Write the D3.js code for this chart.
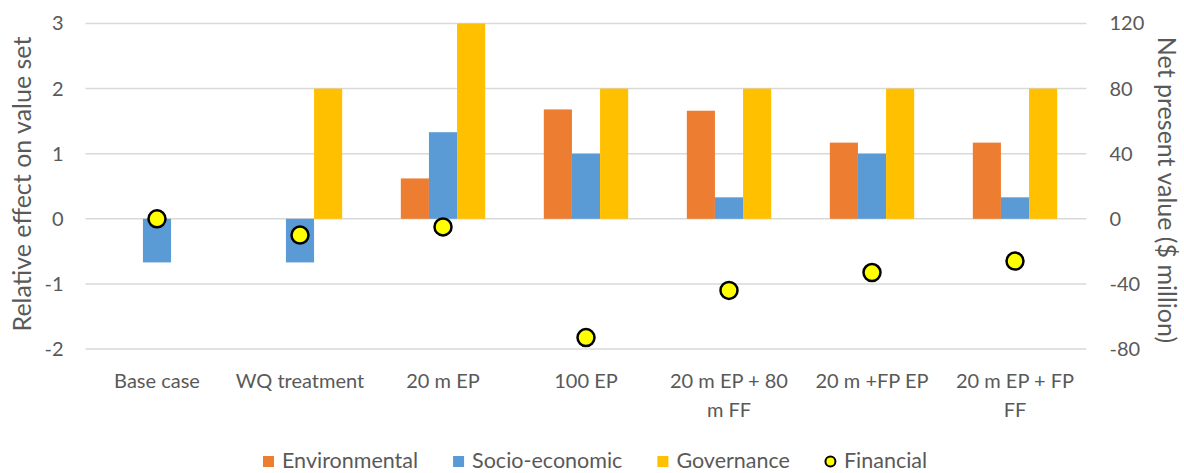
<!DOCTYPE html>
<html>
<head>
<meta charset="utf-8">
<script src="https://cdn.jsdelivr.net/npm/d3@7"></script>
<style>
  html, body { margin: 0; padding: 0; background: #fff; }
  svg { display: block; }
  text { font-family: Lato, "Open Sans", sans-serif; fill: #595959; }
</style>
</head>
<body>
<svg id="chart" width="1184" height="473"></svg>
<script>
// Scenarios along the x axis
const categories = ["Base case", "WQ treatment", "20 m EP", "100 EP",
  "20 m EP + 80 m FF", "20 m +FP EP", "20 m EP + FP FF"];

// Relative effect on value set (left axis)
const environmental = [0, 0, 0.62, 1.68, 1.66, 1.17, 1.17];
const socioEconomic = [-0.67, -0.67, 1.33, 1, 0.33, 1, 0.33];
const governance    = [0, 2, 3, 2, 2, 2, 2];

// Net present value, $ million (right axis)
const financial = [0, -10, -5, -73, -44, -33, -26];

const leftTicks = [-2, -1, 0, 1, 2, 3];
const rightTicks = [-80, -40, 0, 40, 80, 120];

const barSeries = [
  { name: "Environmental", values: environmental, color: "#ED7D31" },
  { name: "Socio-economic", values: socioEconomic, color: "#5B9BD5" },
  { name: "Governance", values: governance, color: "#FFC000" }
];

const svg = d3.select("#chart");
const plotL = 85.5, plotR = 1086.5, plotT = 23.5, plotB = 349;

const x = d3.scaleBand().domain(categories).range([plotL, plotR])
  .paddingInner(0.41).paddingOuter(0.205);
const xs = d3.scaleBand().domain(barSeries.map(s => s.name)).range([0, x.bandwidth()]);
const yL = d3.scaleLinear().domain([-2, 3]).range([plotB, plotT]);
const yR = d3.scaleLinear().domain([-80, 120]).range([plotB, plotT]);

// Horizontal gridlines
svg.append("g")
  .selectAll("line").data(leftTicks).join("line")
  .attr("x1", plotL).attr("x2", plotR)
  .attr("y1", d => yL(d)).attr("y2", d => yL(d))
  .attr("stroke", "#D9D9D9").attr("stroke-width", 1.5);

// Plain hyphen for negative tick labels
const plain = d => String(d);

// Left axis
const axL = svg.append("g").attr("transform", `translate(${plotL},0)`)
  .call(d3.axisLeft(yL).tickValues(leftTicks).tickSize(0).tickPadding(22).tickFormat(plain));
axL.select(".domain").remove();
axL.selectAll("text").attr("font-size", 20).style("fill", "#595959")
  .style("font-family", "Lato, sans-serif");

// Right axis
const axR = svg.append("g").attr("transform", `translate(${plotR},0)`)
  .call(d3.axisRight(yR).tickValues(rightTicks).tickSize(0).tickPadding(23).tickFormat(plain));
axR.select(".domain").remove();
axR.selectAll("text").attr("font-size", 20).style("fill", "#595959")
  .style("font-family", "Lato, sans-serif");

// Bars
const groups = svg.append("g").selectAll("g").data(barSeries).join("g")
  .attr("fill", d => d.color);
groups.selectAll("rect")
  .data(s => s.values.map((v, i) => ({ s: s.name, v, c: categories[i] })))
  .join("rect")
  .attr("x", d => x(d.c) + xs(d.s))
  .attr("width", xs.bandwidth())
  .attr("y", d => yL(Math.max(0, d.v)))
  .attr("height", d => Math.abs(yL(d.v) - yL(0)));

// Financial markers
svg.append("g").selectAll("circle")
  .data(financial.map((v, i) => ({ v, c: categories[i] })))
  .join("circle")
  .attr("cx", d => x(d.c) + x.bandwidth() / 2)
  .attr("cy", d => yR(d.v))
  .attr("r", 8.5)
  .attr("fill", "#FFFF00")
  .attr("stroke", "#000")
  .attr("stroke-width", 2.5);

// Category labels, wrapped when wider than the label width
const wrapWidth = 131;
const xLabels = svg.append("g").selectAll("text").data(categories).join("text")
  .attr("x", d => x(d) + x.bandwidth() / 2)
  .attr("y", 388)
  .attr("text-anchor", "middle")
  .attr("font-size", 20);
xLabels.each(function (d) {
  const t = d3.select(this);
  const words = d.split(" ");
  let line = [];
  let tspan = t.append("tspan").attr("x", t.attr("x")).attr("dy", 0);
  for (const w of words) {
    line.push(w);
    tspan.text(line.join(" "));
    if (tspan.node().getComputedTextLength() > wrapWidth && line.length > 1) {
      line.pop();
      tspan.text(line.join(" "));
      line = [w];
      tspan = t.append("tspan").attr("x", t.attr("x")).attr("dy", 29).text(w);
    }
  }
});

// Axis titles
svg.append("text")
  .attr("transform", `translate(31,184) rotate(-90)`)
  .attr("text-anchor", "middle")
  .attr("font-size", 25)
  .text("Relative effect on value set");
svg.append("text")
  .attr("transform", `translate(1158,190) rotate(90)`)
  .attr("text-anchor", "middle")
  .attr("font-size", 25)
  .text("Net present value ($ million)");

// Legend
const legendItems = [
  ...barSeries.map(s => ({ name: s.name, color: s.color, type: "rect" })),
  { name: "Financial", color: "#FFFF00", type: "circle" }
];
const legend = svg.append("g");
let lx = 263;
const ly = 461.5;
legendItems.forEach(item => {
  if (item.type === "rect") {
    legend.append("rect").attr("x", lx).attr("y", ly - 5.5)
      .attr("width", 11).attr("height", 11).attr("fill", item.color);
  } else {
    legend.append("circle").attr("cx", lx + 5.5).attr("cy", ly)
      .attr("r", 5).attr("fill", item.color).attr("stroke", "#000").attr("stroke-width", 2);
  }
  const t = legend.append("text").attr("x", lx + 19).attr("y", ly + 6.5)
    .attr("font-size", 21.5).text(item.name);
  lx += 19 + t.node().getComputedTextLength() + 35;
});
</script>
</body>
</html>
